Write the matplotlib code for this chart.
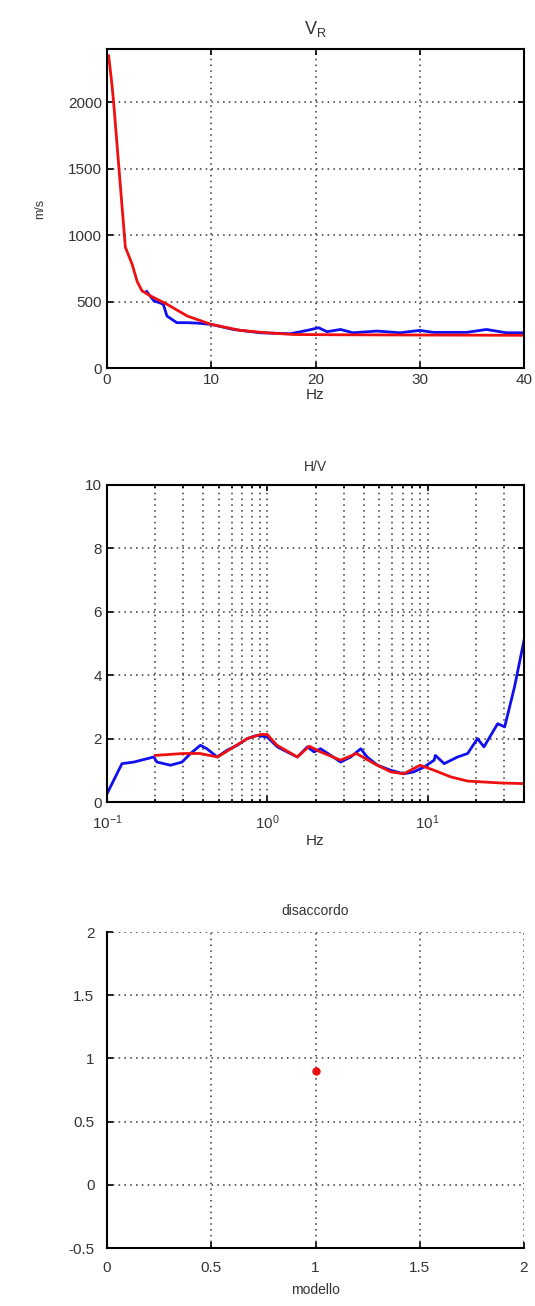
import numpy as np
import matplotlib.pyplot as plt

plt.rcParams['font.family'] = ['Liberation Sans', 'DejaVu Sans']
plt.rcParams['font.size'] = 10

# V_R: experimental (blue) and model (red) dispersion curves
vr_blue_f = [3.8, 4.5, 5.0, 5.4, 5.75, 6.7, 7.7, 8.6, 10.0, 12.1, 14.7, 17.6, 19.2,
             20.3, 21.1, 22.4, 23.6, 25.9, 28.1, 30.0, 31.3, 34.5, 36.4, 38.3, 40.0]
vr_blue_v = [576, 505, 492, 480, 391, 341, 341, 338, 328, 290, 265, 258, 283,
             303, 273, 290, 265, 278, 265, 283, 268, 268, 290, 265, 265]
vr_red_f = [0.16, 0.45, 0.64, 1.2, 1.76, 2.4, 2.9, 3.35, 4.15, 5.75, 7.7, 10.0,
            12.8, 15.3, 17.9, 22.0, 30.0, 40.0]
vr_red_v = [2348, 2150, 1995, 1450, 909, 783, 650, 581, 543, 480, 391, 328,
            283, 265, 252, 250, 248, 246]

# H/V curves
hv_blue_f = [0.1, 0.124, 0.147, 0.196, 0.205, 0.249, 0.294, 0.332, 0.383, 0.42,
             0.487, 0.56, 0.65, 0.75, 0.86, 1.0, 1.155, 1.33, 1.54, 1.78, 1.96,
             2.15, 2.49, 2.87, 3.32, 3.83, 4.2, 4.87, 5.9, 7.1, 8.2, 9.5, 11.0,
             11.2, 12.7, 15.4, 17.8, 20.5, 22.5, 27.4, 30.3, 34.9, 40.0]
hv_blue_v = [0.26, 1.21, 1.26, 1.42, 1.26, 1.16, 1.26, 1.53, 1.79, 1.68,
             1.42, 1.63, 1.79, 2.0, 2.1, 2.05, 1.74, 1.58, 1.42, 1.74, 1.58,
             1.68, 1.47, 1.26, 1.42, 1.68, 1.42, 1.16, 1.0, 0.89, 0.95, 1.1, 1.32,
             1.47, 1.21, 1.42, 1.53, 2.0, 1.74, 2.47, 2.37, 3.63, 5.1]
hv_red_f = [0.2, 0.3, 0.38, 0.49, 0.62, 0.75, 0.91, 1.0, 1.15, 1.54, 1.83, 2.15,
            2.87, 3.6, 4.65, 5.9, 7.1, 9.0, 11.0, 14.0, 17.8, 22.5, 28.8, 40.0]
hv_red_v = [1.47, 1.53, 1.53, 1.42, 1.74, 2.0, 2.13, 2.13, 1.79, 1.42, 1.76, 1.58,
            1.32, 1.53, 1.21, 0.95, 0.89, 1.16, 1.0, 0.79, 0.66, 0.63, 0.6, 0.58]

# misfit
modello = [1]
disaccordo = [0.9]

fig = plt.figure(figsize=(5.35, 13.06), dpi=100)
W, H = 535, 1306
left, right = 107, 524


def add_ax(top, bottom):
    return fig.add_axes([left / W, 1 - bottom / H, (right - left) / W, (bottom - top) / H])


grid_kw = dict(color='#333333', linestyle=(0, (1, 2.8)), linewidth=1.1)
txt_color = '#333333'
blue = '#1010ee'
red = '#ee1010'

# --- V_R ---
ax1 = add_ax(49, 368)
ax1.plot(vr_blue_f, vr_blue_v, color=blue, lw=2)
ax1.plot(vr_red_f, vr_red_v, color=red, lw=2)
ax1.set_xlim(0, 40)
ax1.set_ylim(0, 2400)
ax1.set_xticks([0, 10, 20, 30, 40])
ax1.set_yticks([0, 500, 1000, 1500, 2000])
ax1.grid(True, **grid_kw)
ax1.set_title(r'$\mathregular{V_R}$', fontsize=13, color=txt_color, pad=11)
ax1.set_ylabel('m/s', fontsize=9, color=txt_color, labelpad=16)
ax1.set_xlabel('Hz', fontsize=11, color=txt_color, labelpad=1)

# --- H/V ---
ax2 = add_ax(485, 802)
ax2.semilogx(hv_blue_f, hv_blue_v, color=blue, lw=2)
ax2.semilogx(hv_red_f, hv_red_v, color=red, lw=2)
ax2.set_xlim(0.1, 40)
ax2.set_ylim(0, 10)
ax2.set_yticks([0, 2, 4, 6, 8, 10])
ax2.grid(True, which='both', **grid_kw)
ax2.set_title('H/V', fontsize=10, color=txt_color, pad=10)
ax2.set_xlabel('Hz', fontsize=11, color=txt_color, labelpad=2)

# --- disaccordo ---
ax3 = add_ax(932, 1248)
ax3.plot(modello, disaccordo, 'o', color=red, markersize=5)
ax3.set_xlim(0, 2)
ax3.set_ylim(-0.5, 2)
ax3.set_xticks([0, 0.5, 1, 1.5, 2])
ax3.set_xticklabels(['0', '0.5', '1', '1.5', '2'])
ax3.set_yticks([-0.5, 0, 0.5, 1, 1.5, 2])
ax3.set_yticklabels(['-0.5', '0', '0.5', '1', '1.5', '2'])
ax3.grid(True, **grid_kw)
ax3.spines['top'].set_visible(False)
ax3.spines['right'].set_visible(False)
ax3.set_title('disaccordo', fontsize=10, color=txt_color, pad=12)
ax3.set_xlabel('modello', fontsize=10, color=txt_color, labelpad=6)

for ax in (ax1, ax2, ax3):
    for s in ax.spines.values():
        s.set_linewidth(1.5)
    ax.tick_params(which='both', direction='in', top=(ax is not ax3), right=(ax is not ax3),
                   labelsize=11, labelcolor=txt_color, width=1.2)
    ax.tick_params(which='major', length=4)
    ax.tick_params(which='minor', length=2)
    ax.set_axisbelow(True)

ax2.tick_params(axis='x', which='major', pad=8)
ax3.tick_params(axis='x', pad=9)
ax3.tick_params(axis='y', pad=9)

fig.savefig('out.png', dpi=100)
